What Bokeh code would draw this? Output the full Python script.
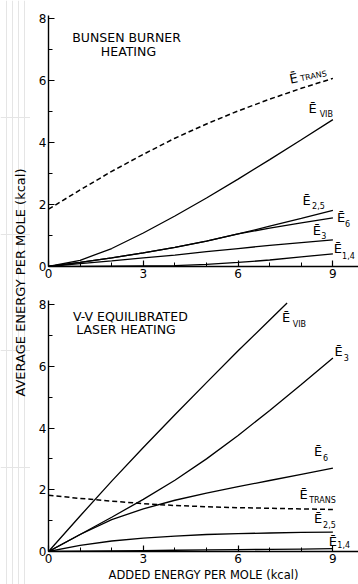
import numpy as np
from bokeh.plotting import figure
from bokeh.models import Range1d, FixedTicker, Label, LabelSet, ColumnDataSource
from bokeh.layouts import row, column
from bokeh.core.properties import value
from bokeh.embed import file_html
from bokeh.resources import INLINE

# ---------------- data ----------------
energy = [0, 1, 2, 3, 4, 5, 6, 7, 8, 9]

# Bunsen burner heating (top)
top_trans = [1.85, 2.47, 3.07, 3.62, 4.14, 4.60, 5.02, 5.40, 5.75, 6.07]
top_vib = [0.0, 0.20, 0.58, 1.08, 1.63, 2.21, 2.82, 3.45, 4.09, 4.74]
top_e25 = [0.0, 0.13, 0.28, 0.44, 0.62, 0.82, 1.05, 1.30, 1.55, 1.81]
top_e6 = [0.0, 0.13, 0.28, 0.44, 0.62, 0.82, 1.05, 1.24, 1.41, 1.57]
top_e3 = [0.0, 0.09, 0.18, 0.28, 0.37, 0.48, 0.58, 0.68, 0.77, 0.86]
top_e14 = [0.0, 0.0, 0.01, 0.02, 0.03, 0.07, 0.13, 0.21, 0.31, 0.41]

# V-V equilibrated laser heating (bottom)
bot_vib_energy = [0, 1, 2, 3, 4, 5, 6, 7, 7.55]
bot_vib = [0.0, 1.15, 2.28, 3.37, 4.43, 5.47, 6.50, 7.50, 8.05]
bot_e3 = [0.0, 0.55, 1.11, 1.69, 2.31, 3.00, 3.76, 4.57, 5.41, 6.27]
bot_e6 = [0.0, 0.55, 1.03, 1.38, 1.66, 1.89, 2.10, 2.30, 2.50, 2.70]
bot_trans = [1.82, 1.72, 1.63, 1.55, 1.49, 1.45, 1.42, 1.40, 1.38, 1.36]
bot_e25 = [0.0, 0.20, 0.34, 0.43, 0.50, 0.55, 0.58, 0.60, 0.62, 0.63]
bot_e14 = [0.0, 0.01, 0.02, 0.03, 0.04, 0.05, 0.06, 0.07, 0.08, 0.09]

x_ticks = [0, 3, 6, 9]
x_minor = [1, 2, 4, 5, 7, 8]
y_ticks = [0, 2, 4, 6, 8]
y_minor = [1, 3, 5, 7]

sub_texts = ["TRANS", "VIB", "2,5", "6", "3", "1,4"]
bot_sub_texts = ["VIB", "3", "6", "TRANS", "2,5", "1,4"]

# label positions (data coordinates)
top_E_x = [7.66, 8.23, 8.04, 9.13, 8.36, 9.03]
top_E_y = [5.90, 4.94, 1.97, 1.43, 1.03, 0.43]
top_E_ang = [0.2, 0, 0, 0, 0, 0]
top_sub_x = [7.99, 8.58, 8.34, 9.38, 8.63, 9.29]
top_sub_y = [5.98, 4.82, 1.86, 1.27, 0.89, 0.25]

bot_E_x = [7.39, 9.05, 8.40, 7.94, 8.40, 8.87]
bot_E_y = [7.44, 6.33, 3.10, 1.70, 0.92, 0.18]
bot_sub_x = [7.73, 9.34, 8.69, 8.25, 8.69, 9.14]
bot_sub_y = [7.28, 6.18, 2.94, 1.58, 0.76, 0.10]

FONT = "DejaVu Sans"


def make_panel(height, b_top, b_bottom, ymax):
    p = figure(width=328, height=height, x_range=Range1d(0, 9.81), y_range=Range1d(0, ymax),
               output_backend="svg", toolbar_location=None,
               min_border_left=18, min_border_right=0,
               min_border_top=b_top, min_border_bottom=b_bottom)
    p.outline_line_color = None
    p.grid.visible = False
    p.xaxis.ticker = FixedTicker(ticks=x_ticks, minor_ticks=x_minor)
    p.yaxis.ticker = FixedTicker(ticks=y_ticks, minor_ticks=y_minor)
    for ax in p.axis:
        ax.major_tick_in = 6
        ax.major_tick_out = 0
        ax.minor_tick_in = 4
        ax.minor_tick_out = 0
        ax.axis_line_width = 1.4
        ax.axis_line_color = "black"
        ax.major_tick_line_color = "black"
        ax.minor_tick_line_color = "black"
        ax.major_tick_line_width = 1.2
        ax.minor_tick_line_width = 1.0
        ax.major_label_text_font = FONT
        ax.major_label_text_font_size = "12px"
        ax.major_label_text_color = "black"
        ax.major_label_standoff = 2
    return p


def add_lines(p, trans, vib_x, vib, others):
    p.line(energy, trans, line_color="black", line_width=1.5, line_dash="5 3")
    p.line(vib_x, vib, line_color="black", line_width=1.3)
    for s in others:
        p.line(energy, s, line_color="black", line_width=1.3)


def add_labels(p, ex, ey, eang, sx, sy, stext):
    n = len(ex)
    src_e = ColumnDataSource(dict(x=ex, y=ey, a=eang, t=["\u0112"] * n))
    src_s = ColumnDataSource(dict(x=sx, y=sy, a=eang, t=stext))
    p.add_layout(LabelSet(x="x", y="y", text="t", angle="a", source=src_e,
                          text_font=value(FONT), text_font_size=value("13px"),
                          text_color=value("black"),
                          text_align=value("left"), text_baseline=value("alphabetic")))
    p.add_layout(LabelSet(x="x", y="y", text="t", angle="a", source=src_s,
                          text_font=value(FONT), text_font_size=value("8px"),
                          text_color=value("black"),
                          text_align=value("left"), text_baseline=value("alphabetic")))


def title(p, x, y, text):
    p.add_layout(Label(x=x, y=y, text=text, text_font=FONT, text_font_size="12.5px",
                       text_align="center", text_baseline="alphabetic", text_color="black"))


# ---------------- top panel ----------------
top = make_panel(290, 15, 24, 8.1)
add_lines(top, top_trans, energy, top_vib, [top_e25, top_e6, top_e3, top_e14])
add_labels(top, top_E_x, top_E_y, top_E_ang, top_sub_x, top_sub_y, sub_texts)
title(top, 2.47, 7.4, "BUNSEN BURNER")
title(top, 2.53, 6.95, "HEATING")

# ---------------- bottom panel ----------------
bot = make_panel(294, 10, 31, 8.13)
add_lines(bot, bot_trans, bot_vib_energy, bot_vib, [bot_e3, bot_e6, bot_e25, bot_e14])
add_labels(bot, bot_E_x, bot_E_y, [0] * 6, bot_sub_x, bot_sub_y, bot_sub_texts)
title(bot, 2.59, 7.6, "V-V EQUILIBRATED")
title(bot, 2.45, 7.2, "LASER HEATING")
bot.xaxis.axis_label = "ADDED ENERGY PER MOLE (kcal)"
bot.xaxis.axis_label_text_font = FONT
bot.xaxis.axis_label_text_font_size = "11.5px"
bot.xaxis.axis_label_text_font_style = "normal"
bot.xaxis.axis_label_text_color = "black"
bot.xaxis.axis_label_standoff = 2

# ---------------- shared y-axis label ----------------
lf = figure(width=30, height=584, x_range=Range1d(0, 1), y_range=Range1d(0, 1),
            output_backend="svg", toolbar_location=None, min_border=0,
            x_axis_location=None, y_axis_location=None)
lf.outline_line_color = None
lf.add_layout(Label(x=0.667, y=0.517, text="AVERAGE ENERGY PER MOLE (kcal)", angle=np.pi / 2,
                    text_align="center", text_baseline="middle", text_font=FONT,
                    text_font_size="13px", text_color="black"))

layout = row(lf, column(top, bot))

with open("out.html", "w") as f:
    f.write(file_html(layout, INLINE))
